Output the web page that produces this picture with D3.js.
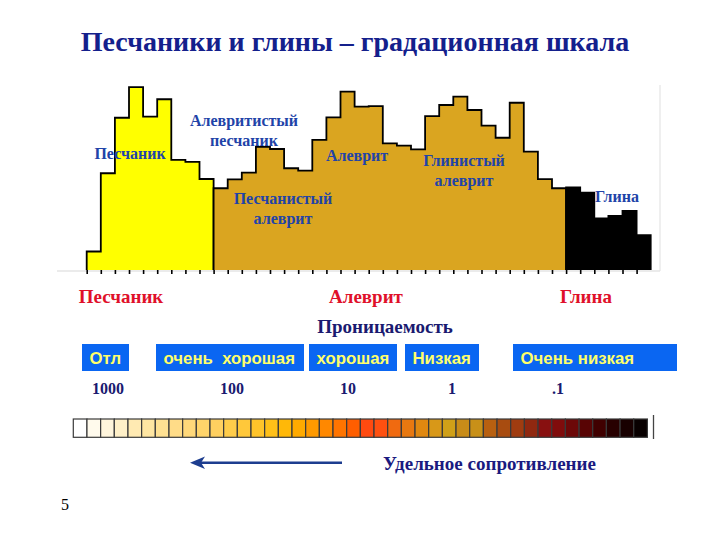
<!DOCTYPE html>
<html><head><meta charset="utf-8">
<script src="https://cdn.jsdelivr.net/npm/d3@7"></script>
<style>body{margin:0;background:#fff}svg{display:block}</style>
</head><body>
<svg id="c" width="720" height="540"></svg>
<script>
// ---- data ----
const title = "Песчаники и глины – градационная шкала";
const sandValues = [10, 52.3, 82.3, 98.8, 82.9, 92.3, 59.5, 58.5, 49.2];
const siltValues = [44.2, 49, 52.6, 66.6, 65.4, 55, 53.7, 70.3, 82.5, 96.4, 88.3, 88.6, 68.5, 67.2, 65.2, 83.2, 89.2, 93.7, 86.5, 78, 71.5, 90.4, 64, 49.1, 44.2];
const clayValues = [44.7, 41.8, 27.9, 29.2, 31.9, 18.9];
const innerLabels = [["Песчаник"], ["Алевритистый", "песчаник"], ["Песчанистый", "алеврит"], ["Алеврит"], ["Глинистый", "алеврит"], ["Глина"]];
const groupLabels = ["Песчаник", "Алеврит", "Глина"];
const permTitle = "Проницаемость";
const permClasses = ["Отл", "очень  хорошая", "хорошая", "Низкая", "Очень низкая"];
const permTicks = [1000, 100, 10, 1, 0.1];
const permTickLabels = ["1000", "100", "10", "1", ".1"];
const resistColors = ["#ffffff","#fffaec","#fff5dc","#fff0c8","#ffeab2","#ffe6a2","#ffe192","#ffdc88","#ffd87a","#ffd46a","#ffd060","#ffcc4a","#ffc83a","#ffc42a","#ffc018","#ffb808","#ffaa00","#ff9a00","#ff8800","#ff7400","#ff5e00","#ff4a10","#ff5010","#f06a10","#e87810","#e08810","#d89818","#d0a018","#c88c18","#c89018","#b86010","#a84c10","#a03c10","#902810","#881010","#800c0c","#6c0808","#580404","#400000","#280000","#180000","#080000"];
const resistLabel = "Удельное сопротивление";
const pageNumber = "5";

// ---- drawing ----
const svg = d3.select("#c");
const serif = "'Liberation Serif','Times New Roman',serif";
const sans = "'Liberation Sans',Arial,sans-serif";

svg.append("text").attr("x", 355).attr("y", 51).attr("text-anchor", "middle")
  .attr("font-family", serif).attr("font-weight", "bold").attr("font-size", 28)
  .attr("fill", "#14208c").text(title);

const nBars = sandValues.length + siltValues.length + clayValues.length;
const x = d3.scaleLinear().domain([0, nBars]).range([86.7, 650.7]);
const y = d3.scaleLinear().domain([0, 100]).range([270, 85]);

// frame lines
svg.append("line").attr("x1", 57).attr("x2", 660).attr("y1", 271).attr("y2", 271).attr("stroke", "#d8d8d8").attr("stroke-width", 1.2);
svg.append("line").attr("x1", 660).attr("x2", 660).attr("y1", 85).attr("y2", 271).attr("stroke", "#e4e4e4").attr("stroke-width", 1.2);

const groups = [
  {vals: sandValues, start: 0, fill: "#ffff00"},
  {vals: siltValues, start: sandValues.length, fill: "#daa520"},
  {vals: clayValues, start: sandValues.length + siltValues.length, fill: "#000000"}
];
groups.forEach(g => {
  const pts = [];
  g.vals.forEach((v, i) => {
    pts.push([x(g.start + i), y(v)]);
    pts.push([x(g.start + i + 1), y(v)]);
  });
  const x0 = x(g.start), x1 = x(g.start + g.vals.length);
  const line = d3.line();
  const open = [[x0, y(0)], ...pts, [x1, y(0)]];
  svg.append("path").attr("d", line(open) + "Z").attr("fill", g.fill).attr("stroke", "none");
  svg.append("path").attr("d", line(open)).attr("fill", "none").attr("stroke", "#000").attr("stroke-width", 1.8).attr("stroke-linejoin", "miter");
});

const axis = d3.axisBottom(x).tickValues(d3.range(0, nBars)).tickSize(4).tickFormat("");
const ag = svg.append("g").attr("transform", `translate(0,${y(0)})`).call(axis);
ag.select(".domain").remove();
ag.selectAll(".tick line").attr("stroke", "#000").attr("stroke-width", 1.6);

// inner labels
const innerPos = [[130, 159], [244, 126], [283, 204], [357, 161], [464, 166], [617, 202]];
innerLabels.forEach((lines, i) => {
  lines.forEach((t, j) => {
    svg.append("text").attr("x", innerPos[i][0]).attr("y", innerPos[i][1] + j * 19.5)
      .attr("text-anchor", "middle").attr("font-family", serif).attr("font-weight", "bold")
      .attr("font-size", 16).attr("fill", "#2143a8").text(t);
  });
});

// group labels
const groupPos = [121, 366, 586];
groupLabels.forEach((t, i) => {
  svg.append("text").attr("x", groupPos[i]).attr("y", 303).attr("text-anchor", "middle")
    .attr("font-family", serif).attr("font-weight", "bold").attr("font-size", 19)
    .attr("fill", "#e0102a").text(t);
});

svg.append("text").attr("x", 385).attr("y", 333).attr("text-anchor", "middle")
  .attr("font-family", serif).attr("font-weight", "bold").attr("font-size", 19)
  .attr("fill", "#1a1a70").text(permTitle);

// permeability boxes
const boxLayout = [[82, 129], [156, 304], [309, 397], [405, 479], [513, 677]];
permClasses.forEach((t, i) => {
  const [a, b] = boxLayout[i];
  svg.append("rect").attr("x", a).attr("y", 344).attr("width", b - a).attr("height", 27).attr("fill", "#0a66f2");
  svg.append("text").attr("x", a + 7.5).attr("y", 363.5).attr("font-family", sans).attr("font-weight", "bold")
    .attr("font-size", 16.8).attr("fill", "#ffff6a").attr("xml:space", "preserve").style("white-space", "pre").text(t);
});

const px = d3.scaleLog().domain(permTicks).range([108, 232, 348, 452, 558]);
permTicks.forEach((v, i) => {
  svg.append("text").attr("x", px(v)).attr("y", 394).attr("text-anchor", "middle")
    .attr("font-family", serif).attr("font-weight", "bold").attr("font-size", 16)
    .attr("fill", "#1a1a70").text(permTickLabels[i]);
});

// resistivity colour bar
const cb = d3.scaleBand().domain(d3.range(resistColors.length)).range([73.3, 647.4]);
svg.selectAll("rect.cell").data(resistColors).enter().append("rect").attr("class", "cell")
  .attr("x", (d, i) => cb(i)).attr("y", 419).attr("width", cb.bandwidth()).attr("height", 18.3)
  .attr("fill", d => d).attr("stroke", "#3a3a3a").attr("stroke-width", 1.2);
svg.append("line").attr("x1", 653.5).attr("x2", 653.5).attr("y1", 415).attr("y2", 439).attr("stroke", "#444").attr("stroke-width", 1.3);

// arrow
svg.append("line").attr("x1", 342).attr("x2", 198).attr("y1", 462.7).attr("y2", 462.7).attr("stroke", "#1d3d8f").attr("stroke-width", 2.6);
svg.append("path").attr("d", "M190,462.7 L205,456.5 L201,462.7 L205,468.9 Z").attr("fill", "#1d3d8f");
svg.append("text").attr("x", 383).attr("y", 470).attr("font-family", serif).attr("font-weight", "bold")
  .attr("font-size", 19).attr("fill", "#1a1a80").text(resistLabel);

svg.append("text").attr("x", 61).attr("y", 510).attr("font-family", serif).attr("font-size", 16)
  .attr("fill", "#000").text(pageNumber);
</script>
</body></html>
